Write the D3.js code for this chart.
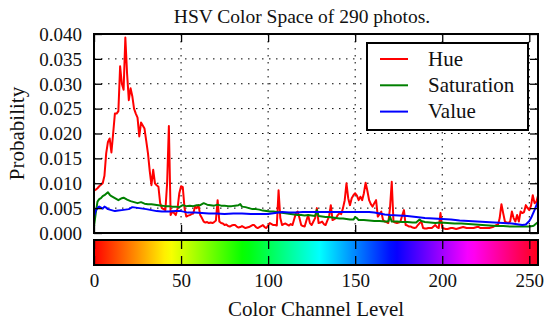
<!DOCTYPE html>
<html>
<head>
<meta charset="utf-8">
<script src="https://cdn.jsdelivr.net/npm/d3@7"></script>
<style>
  html, body { margin: 0; padding: 0; background: #fff; }
  svg { display: block; }
</style>
</head>
<body>
<svg id="chart" width="546" height="324"></svg>
<script>
// Per-level hue histogram (levels 0..255)
const hue = [
  0.0085, 0.0087, 0.0090, 0.0094, 0.0097, 0.0100, 0.0115, 0.0160, 0.0183, 0.0190,
  0.0162, 0.0200, 0.0240, 0.0240, 0.0245, 0.0335, 0.0300, 0.0288, 0.0393, 0.0320,
  0.0267, 0.0291, 0.0275, 0.0250, 0.0240, 0.0232, 0.0194, 0.0222, 0.0216, 0.0210,
  0.0185, 0.0160, 0.0125, 0.0096, 0.0127, 0.0100, 0.0096, 0.0093, 0.0060, 0.0050,
  0.0048, 0.0046, 0.0100, 0.0215, 0.0036, 0.0043, 0.0040, 0.0036, 0.0050, 0.0080,
  0.0094, 0.0092, 0.0050, 0.0033, 0.0035, 0.0036, 0.0038, 0.0039, 0.0053, 0.0050,
  0.0056, 0.0036, 0.0030, 0.0023, 0.0021, 0.0022, 0.0020, 0.0021, 0.0020, 0.0022,
  0.0025, 0.0066, 0.0023, 0.0020, 0.0019, 0.0016, 0.0017, 0.0014, 0.0013, 0.0015,
  0.0016, 0.0016, 0.0013, 0.0011, 0.0012, 0.0014, 0.0012, 0.0010, 0.0011, 0.0012,
  0.0014, 0.0016, 0.0016, 0.0012, 0.0010, 0.0012, 0.0014, 0.0016, 0.0012, 0.0010,
  0.0015, 0.0020, 0.0018, 0.0016, 0.0016, 0.0015, 0.0086, 0.0030, 0.0016, 0.0018,
  0.0019, 0.0017, 0.0015, 0.0018, 0.0016, 0.0028, 0.0040, 0.0043, 0.0030, 0.0016,
  0.0014, 0.0013, 0.0025, 0.0036, 0.0020, 0.0016, 0.0023, 0.0030, 0.0050, 0.0020,
  0.0021, 0.0023, 0.0018, 0.0016, 0.0025, 0.0033, 0.0056, 0.0026, 0.0028, 0.0030,
  0.0036, 0.0040, 0.0038, 0.0050, 0.0066, 0.0100, 0.0070, 0.0056, 0.0070, 0.0076,
  0.0080, 0.0075, 0.0066, 0.0073, 0.0066, 0.0080, 0.0101, 0.0085, 0.0066, 0.0058,
  0.0053, 0.0060, 0.0066, 0.0033, 0.0038, 0.0043, 0.0026, 0.0023, 0.0022, 0.0020,
  0.0050, 0.0103, 0.0023, 0.0021, 0.0020, 0.0021, 0.0023, 0.0035, 0.0046, 0.0016,
  0.0015, 0.0013, 0.0013, 0.0011, 0.0010, 0.0011, 0.0016, 0.0020, 0.0023, 0.0010,
  0.0009, 0.0009, 0.0010, 0.0010, 0.0010, 0.0013, 0.0016, 0.0012, 0.0010, 0.0040,
  0.0010, 0.0009, 0.0008, 0.0008, 0.0009, 0.0010, 0.0010, 0.0009, 0.0008, 0.0009,
  0.0010, 0.0011, 0.0012, 0.0011, 0.0010, 0.0010, 0.0010, 0.0010, 0.0010, 0.0011,
  0.0012, 0.0012, 0.0010, 0.0010, 0.0010, 0.0010, 0.0010, 0.0010, 0.0011, 0.0012,
  0.0014, 0.0016, 0.0016, 0.0030, 0.0058, 0.0040, 0.0023, 0.0021, 0.0020, 0.0023,
  0.0043, 0.0030, 0.0023, 0.0036, 0.0023, 0.0043, 0.0040, 0.0042, 0.0056, 0.0050,
  0.0046, 0.0055, 0.0076, 0.0060, 0.0062, 0.0075
];

// Saturation histogram, sampled levels
const satLevels = [0,1,2,3,4,5,6,7,8,9,10,12,14,16,17,19,21,23,25,27,29,31,33,35,37,39,41,43,45,47,49,
  51,53,55,57,59,61,63,65,67,69,71,73,75,77,79,81,83,84,85,87,89,91,93,95,97,99,101,103,105,107,109,
  111,113,115,117,119,121,123,125,127,128,129,131,133,135,137,139,141,143,145,147,149,150,151,152,155,
  158,161,164,167,169,170,171,174,177,180,183,185,187,188,190,193,196,199,203,207,211,215,219,223,227,
  231,235,239,243,247,250,252,253,254,255];
const satValues = [0.0013,0.0040,0.0063,0.0068,0.0070,0.0074,0.0076,0.0079,0.0082,0.0077,0.0074,0.0070,
  0.0066,0.0070,0.0071,0.0067,0.0064,0.0062,0.0060,0.0062,0.0059,0.0058,0.0058,0.0057,0.0056,0.0055,
  0.0054,0.0054,0.0053,0.0053,0.0052,0.0056,0.0054,0.0055,0.0054,0.0056,0.0056,0.0060,0.0057,0.0056,
  0.0055,0.0057,0.0055,0.0055,0.0054,0.0054,0.0055,0.0056,0.0058,0.0053,0.0052,0.0050,0.0048,0.0048,
  0.0047,0.0045,0.0044,0.0043,0.0043,0.0042,0.0041,0.0040,0.0039,0.0038,0.0037,0.0036,0.0036,0.0035,
  0.0036,0.0035,0.0034,0.0046,0.0034,0.0033,0.0032,0.0032,0.0031,0.0030,0.0029,0.0029,0.0028,0.0027,
  0.0027,0.0032,0.0030,0.0026,0.0026,0.0025,0.0024,0.0024,0.0023,0.0023,0.0033,0.0023,0.0023,0.0022,
  0.0022,0.0021,0.0021,0.0027,0.0024,0.0022,0.0021,0.0020,0.0021,0.0020,0.0019,0.0019,0.0018,0.0017,
  0.0016,0.0015,0.0014,0.0014,0.0013,0.0013,0.0013,0.0013,0.0014,0.0016,0.0019,0.0022];

// Value (brightness) histogram, sampled levels
const valLevels = [0,1,2,3,4,5,6,7,8,10,12,14,16,18,20,22,24,26,28,30,33,36,39,43,47,50,54,58,62,66,70,
  75,80,85,90,95,100,104,108,112,116,120,125,130,135,140,145,150,155,158,161,164,167,170,175,180,185,
  190,195,200,205,210,215,220,225,230,235,240,244,246,248,250,251,252,253,254,255];
const valValues = [0.0033,0.0045,0.0050,0.0053,0.0051,0.0049,0.0053,0.0051,0.0048,0.0046,0.0044,0.0045,
  0.0046,0.0047,0.0048,0.0052,0.0051,0.0050,0.0049,0.0048,0.0046,0.0044,0.0043,0.0043,0.0044,0.0044,
  0.0041,0.0041,0.0040,0.0039,0.0039,0.0038,0.0039,0.0039,0.0038,0.0038,0.0038,0.0040,0.0042,0.0041,
  0.0041,0.0042,0.0042,0.0042,0.0042,0.0042,0.0042,0.0042,0.0042,0.0042,0.0041,0.0039,0.0037,0.0036,
  0.0035,0.0034,0.0032,0.0030,0.0029,0.0028,0.0027,0.0025,0.0024,0.0023,0.0022,0.0021,0.0020,0.0019,
  0.0017,0.0016,0.0017,0.0024,0.0030,0.0038,0.0046,0.0055,0.0063];

const yTicks = [0, 0.005, 0.010, 0.015, 0.020, 0.025, 0.030, 0.035, 0.040];
const xTicks = [0, 50, 100, 150, 200, 250];
const seriesNames = ["Hue", "Saturation", "Value"];
const seriesColors = ["#ff0000", "#008000", "#0000ff"];

// Stops of the hue colour map shown in the bar under the plot
const cmapStops = [
  [0.0, "rgb(255,0,0)"], [0.1587, "rgb(255,239,0)"], [0.1746, "rgb(247,255,0)"],
  [0.3333, "rgb(8,255,0)"], [0.3492, "rgb(0,255,16)"], [0.5079, "rgb(0,255,255)"],
  [0.6667, "rgb(0,16,255)"], [0.6825, "rgb(8,0,255)"], [0.8413, "rgb(247,0,255)"],
  [0.8571, "rgb(255,0,239)"], [1.0, "rgb(255,0,24)"]
];

// Pick the first installed serif face (probe by comparing glyph widths against a generic family)
function pickSerif(candidates) {
  const ctx = document.createElement("canvas").getContext("2d");
  const probe = "HSV Color Space 0.0123456789 Saturation";
  for (const base of ["monospace", "sans-serif"]) {
    ctx.font = `40px ${base}`;
    const w0 = ctx.measureText(probe).width;
    for (const c of candidates) {
      ctx.font = `40px "${c}", ${base}`;
      if (Math.abs(ctx.measureText(probe).width - w0) > 0.5) return `"${c}"`;
    }
  }
  return "serif";
}
const FONT = pickSerif(["Liberation Serif", "DejaVu Serif", "Noto Serif", "Tinos", "Times New Roman",
  "FreeSerif", "Nimbus Roman", "TeX Gyre Termes", "Latin Modern Roman", "Noto Serif CJK SC", "Noto Serif CJK JP"]) + ", serif";

const svg = d3.select("#chart");
const plot = { left: 94, right: 538, top: 34, bottom: 233 };
const bar = { top: 240, bottom: 265 };

const x = d3.scaleLinear().domain([0, 255]).range([plot.left, plot.right]);
const y = d3.scaleLinear().domain([0, 0.04]).range([plot.bottom, plot.top]);

function label(sel, size) {
  return sel.style("font-family", FONT).style("font-size", size + "px").attr("fill", "#111");
}

// title
svg.append("text")
  .attr("x", 302).attr("y", 23)
  .attr("text-anchor", "middle")
  .call(label, 19.5)
  .text("HSV Color Space of 290 photos.");

// dotted grid
const grid = svg.append("g");
grid.selectAll("line.gx").data(xTicks.filter(t => t > 0)).join("line")
  .attr("x1", d => x(d)).attr("x2", d => x(d))
  .attr("y1", plot.top).attr("y2", plot.bottom)
  .attr("stroke", "#000").attr("stroke-width", 1).attr("stroke-dasharray", "1.5,5.5");
grid.selectAll("line.gy").data(yTicks.filter(t => t > 0 && t < 0.04)).join("line")
  .attr("x1", plot.left).attr("x2", plot.right)
  .attr("y1", d => y(d)).attr("y2", d => y(d))
  .attr("stroke", "#000").attr("stroke-width", 1).attr("stroke-dasharray", "1.5,5.5");

// series lines
const line = d3.line().x(d => x(d[0])).y(d => y(d[1]));
const hueData = hue.map((v, i) => [i, v]);
const satData = satLevels.map((l, i) => [l, satValues[i]]);
const valData = valLevels.map((l, i) => [l, valValues[i]]);
[hueData, satData, valData].forEach((data, i) => {
  svg.append("path")
    .attr("d", line(data))
    .attr("fill", "none")
    .attr("stroke", seriesColors[i])
    .attr("stroke-width", 2)
    .attr("stroke-linejoin", "round");
});

// axes with inward ticks on all four sides
const tickLen = 8;
function styleAxis(g) {
  g.select(".domain").remove();
  g.selectAll(".tick line").attr("stroke", "#000").attr("stroke-width", 1.3);
}
const axLeft = svg.append("g").attr("transform", `translate(${plot.left},0)`)
  .call(d3.axisLeft(y).tickValues(yTicks).tickFormat(d3.format(".3f")).tickSizeInner(-tickLen).tickSizeOuter(0).tickPadding(12))
  .call(styleAxis);
axLeft.selectAll(".tick text").call(label, 19).attr("dy", "0.33em");

svg.append("g").attr("transform", `translate(${plot.right},0)`)
  .call(d3.axisRight(y).tickValues(yTicks).tickFormat("").tickSizeInner(-tickLen).tickSizeOuter(0))
  .call(styleAxis);
svg.append("g").attr("transform", `translate(0,${plot.top})`)
  .call(d3.axisTop(x).tickValues(xTicks).tickFormat("").tickSizeInner(-tickLen).tickSizeOuter(0))
  .call(styleAxis);
svg.append("g").attr("transform", `translate(0,${plot.bottom})`)
  .call(d3.axisBottom(x).tickValues(xTicks).tickFormat("").tickSizeInner(-tickLen).tickSizeOuter(0))
  .call(styleAxis);

// plot frame
svg.append("rect")
  .attr("x", plot.left).attr("y", plot.top)
  .attr("width", plot.right - plot.left).attr("height", plot.bottom - plot.top)
  .attr("fill", "none").attr("stroke", "#000").attr("stroke-width", 2);

// y label
svg.append("text")
  .attr("transform", `translate(24,${(plot.top + plot.bottom) / 2}) rotate(-90)`)
  .attr("text-anchor", "middle")
  .call(label, 21)
  .text("Probability");

// legend
const legend = svg.append("g");
legend.append("rect")
  .attr("x", 367).attr("y", 43).attr("width", 161).attr("height", 87)
  .attr("fill", "#fff").attr("stroke", "#000").attr("stroke-width", 2);
seriesNames.forEach((name, i) => {
  const ly = 59 + i * 26.3;
  legend.append("line")
    .attr("x1", 380).attr("x2", 408).attr("y1", ly).attr("y2", ly)
    .attr("stroke", seriesColors[i]).attr("stroke-width", 2);
  legend.append("text")
    .attr("x", 428).attr("y", ly + 6.5)
    .call(label, 21)
    .text(name);
});

// hue colour bar
const defs = svg.append("defs");
const grad = defs.append("linearGradient").attr("id", "hsvmap")
  .attr("x1", "0%").attr("x2", "100%").attr("y1", "0%").attr("y2", "0%");
grad.selectAll("stop").data(cmapStops).join("stop")
  .attr("offset", d => d[0]).attr("stop-color", d => d[1]);

svg.append("rect")
  .attr("x", plot.left).attr("y", bar.top)
  .attr("width", plot.right - plot.left).attr("height", bar.bottom - bar.top)
  .attr("fill", "url(#hsvmap)");

svg.append("g").attr("transform", `translate(0,${bar.top})`)
  .call(d3.axisTop(x).tickValues(xTicks).tickFormat("").tickSizeInner(-9).tickSizeOuter(0))
  .call(styleAxis);

const barBottom = svg.append("g").attr("transform", `translate(0,${bar.bottom})`)
  .call(d3.axisBottom(x).tickValues(xTicks).tickSizeInner(-9).tickSizeOuter(0).tickPadding(9))
  .call(styleAxis);
barBottom.selectAll(".tick text").call(label, 19);

svg.append("rect")
  .attr("x", plot.left).attr("y", bar.top)
  .attr("width", plot.right - plot.left).attr("height", bar.bottom - bar.top)
  .attr("fill", "none").attr("stroke", "#000").attr("stroke-width", 2);

// x label
svg.append("text")
  .attr("x", 316).attr("y", 316)
  .attr("text-anchor", "middle")
  .call(label, 21)
  .text("Color Channel Level");
</script>
</body>
</html>
